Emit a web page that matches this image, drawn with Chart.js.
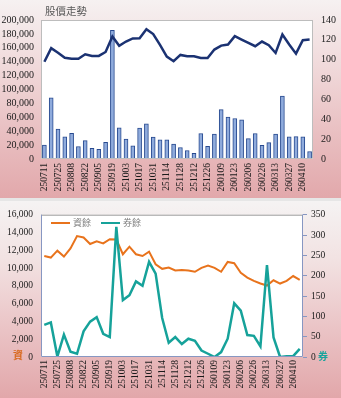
<!DOCTYPE html>
<html>
<head>
<meta charset="utf-8">
<script src="https://cdn.jsdelivr.net/npm/chart.js@4.4.1/dist/chart.umd.min.js"></script>
<style>
  html, body { margin: 0; padding: 0; background: #e6e6e6; }
  .panel { position: absolute; left: 0; width: 341px; overflow: hidden; }
  #topPanel { top: 0; height: 198px; background: linear-gradient(180deg, #f6f1f1 0%, #f1dcdd 30%, #eac3c5 62%, #e2a8ab 100%); }
  #bottomPanel { top: 201px; height: 197px; background: linear-gradient(180deg, #f5f3f3 0%, #f2e2e2 30%, #ebc6c8 62%, #e2a7aa 100%); }
  .title { position: absolute; left: 45px; top: 6px; font: 10.5px "Noto Sans CJK TC", sans-serif; color: #595959; line-height: 1; }
  .tag { position: absolute; font: bold 10px "Noto Sans CJK TC", sans-serif; line-height: 1; }
  #tagMargin { left: 13px; top: 149px; color: #d8691f; }
  #tagShort { left: 318px; top: 150px; color: #17a39b; }
  .legend { position: absolute; top: 15px; left: 51px; font: 9px "Noto Sans CJK TC", sans-serif; color: #7f7f7f; line-height: 12px; white-space: nowrap; }
  .legend span { display: inline-block; vertical-align: middle; }
  .legend .key { width: 19px; height: 2px; margin-right: 3px; }
  .legend .item { margin-right: 10px; }
</style>
</head>
<body>
<div class="panel" id="topPanel">
  <canvas id="priceChart"></canvas>
  <div class="title">股價走勢</div>
</div>
<div class="panel" id="bottomPanel">
  <canvas id="marginChart"></canvas>
  <div class="legend" id="marginLegend"></div>
  <span class="tag" id="tagMargin">資</span>
  <span class="tag" id="tagShort">券</span>
</div>
<script>
'use strict';

const dates = ['250711', '250718', '250725', '250801', '250808', '250815', '250822', '250829', '250905', '250912',
  '250919', '250926', '251003', '251009', '251017', '251024', '251031', '251107', '251114', '251121',
  '251128', '251205', '251212', '251219', '251226', '260102', '260109', '260116', '260123', '260130',
  '260206', '260211', '260226', '260306', '260313', '260320', '260327', '260402', '260410', '260417'];

const volume = [20000, 88000, 43000, 32000, 37000, 18000, 26500, 15500, 14000, 24000,
  185000, 45000, 28500, 19000, 44500, 50500, 31500, 27500, 27500, 21500,
  16500, 12200, 8300, 36700, 18100, 35700, 71000, 60200, 58300, 56300,
  29400, 36700, 19600, 23500, 35700, 90600, 31800, 32300, 32000, 10800];

const price = [98, 111.6, 107, 102, 101, 101, 105.5, 103.8, 103.8, 107.8,
  123.4, 114, 118.3, 121.4, 121.7, 130.8, 125.8, 115, 103.2, 98.5,
  104.8, 103.4, 103.4, 101.7, 101.7, 110.2, 114.2, 115.3, 123.7, 120.3,
  117, 113.6, 118.3, 114.6, 106.8, 125.4, 115.3, 106.1, 119.7, 120.3];

const marginBal = [11360, 11180, 11955, 11290, 12215, 13590, 13440, 12700, 13000, 12770,
  13250, 13220, 11550, 12400, 11550, 11360, 11845, 10430, 9915, 10060,
  9730, 9770, 9730, 9585, 10030, 10285, 10030, 9585, 10690, 10540,
  9475, 8925, 8555, 8260, 8035, 8625, 8260, 8555, 9105, 8665];

const shortBal = [79, 85, 1, 55, 13, 8, 63, 87, 98, 57,
  49, 320, 140, 152, 186, 175, 234, 205, 96, 35,
  49, 32, 45, 40, 16, 8, 0, 12, 45, 132,
  114, 54, 52, 26, 226, 48, 0, 2, 2, 20];

Chart.defaults.font.family = '"Liberation Serif", serif';
Chart.defaults.color = '#1a1a1a';

const everyOther = function (val, i) {
  return i % 2 === 0 ? this.getLabelForValue(val) : '';
};

// white plot area + frame
const plotFrame = {
  id: 'plotFrame',
  beforeDraw(chart, args, opts) {
    const { ctx, chartArea: a } = chart;
    ctx.save();
    ctx.fillStyle = '#ffffff';
    ctx.fillRect(a.left, a.top, a.width, a.height);
    ctx.restore();
  },
  afterDraw(chart, args, opts) {
    const { ctx, chartArea: a } = chart;
    ctx.save();
    ctx.lineWidth = 1;
    ctx.strokeStyle = opts.top;
    ctx.beginPath();
    ctx.moveTo(a.left, a.top + 0.5);
    ctx.lineTo(a.right, a.top + 0.5);
    ctx.stroke();
    ctx.strokeStyle = opts.sides;
    ctx.beginPath();
    ctx.moveTo(a.left + 0.5, a.top);
    ctx.lineTo(a.left + 0.5, a.bottom - 0.5);
    ctx.lineTo(a.right - 0.5, a.bottom - 0.5);
    ctx.lineTo(a.right - 0.5, a.top);
    ctx.stroke();
    ctx.restore();
  }
};

// top chart: volume bars + price line
new Chart(document.getElementById('priceChart').getContext('2d'), {
  data: {
    labels: dates,
    datasets: [
      {
        type: 'line',
        data: price,
        yAxisID: 'yPrice',
        borderColor: '#1b3272',
        borderWidth: 2.5,
        pointRadius: 0,
        tension: 0,
        order: 0,
      },
      {
        type: 'bar',
        data: volume,
        yAxisID: 'yVol',
        backgroundColor: '#8fabdc',
        borderColor: '#27498f',
        borderWidth: 1,
        barThickness: 4,
        order: 1,
      },
    ],
  },
  options: {
    responsive: true,
    maintainAspectRatio: false,
    animation: false,
    layout: { padding: { top: 20, left: 0, right: 0, bottom: 0 } },
    plugins: {
      legend: { display: false },
      tooltip: { enabled: false },
      plotFrame: { top: '#bdbdbd', sides: '#bdbdbd' },
    },
    scales: {
      x: {
        offset: true,
        grid: { display: false, drawTicks: false },
        border: { display: false },
        ticks: { autoSkip: false, maxRotation: 90, minRotation: 90, padding: 4, font: { size: 9.5 }, callback: everyOther },
        afterFit: (s) => { s.height = 39; },
      },
      yVol: {
        position: 'left',
        min: 0,
        max: 200000,
        grid: { display: false, drawTicks: false },
        border: { display: false },
        ticks: { stepSize: 20000, autoSkip: false, padding: 7, font: { size: 10 } },
        afterFit: (s) => { s.width = 41; },
      },
      yPrice: {
        position: 'right',
        min: 0,
        max: 140,
        grid: { display: false, drawTicks: false },
        border: { display: false },
        ticks: { stepSize: 20, autoSkip: false, padding: 8, font: { size: 10 } },
        afterFit: (s) => { s.width = 28; },
      },
    },
  },
  plugins: [plotFrame],
});

// bottom chart: margin balance vs short balance
const marginChart = new Chart(document.getElementById('marginChart').getContext('2d'), {
  type: 'line',
  data: {
    labels: dates,
    datasets: [
      {
        label: '資餘',
        data: marginBal,
        yAxisID: 'yMargin',
        borderColor: '#e8731c',
        borderWidth: 2,
        pointRadius: 0,
        tension: 0,
        order: 1,
      },
      {
        label: '券餘',
        data: shortBal,
        yAxisID: 'yShort',
        borderColor: '#16a29a',
        borderWidth: 2.5,
        pointRadius: 0,
        tension: 0,
        order: 0,
      },
    ],
  },
  options: {
    responsive: true,
    maintainAspectRatio: false,
    animation: false,
    layout: { padding: { top: 12, left: 0, right: 0, bottom: 0 } },
    plugins: {
      tooltip: { enabled: false },
      legend: { display: false },
      plotFrame: { top: '#9a9a9a', sides: '#8797c2' },
    },
    scales: {
      x: {
        offset: true,
        grid: { display: false, drawTicks: false },
        border: { display: false },
        ticks: { autoSkip: false, maxRotation: 90, minRotation: 90, padding: 3, font: { size: 9.5 }, callback: everyOther },
        afterFit: (s) => { s.height = 41; },
      },
      yMargin: {
        position: 'left',
        min: 0,
        max: 16000,
        grid: { display: false, drawTicks: false },
        border: { display: false },
        ticks: { stepSize: 2000, autoSkip: false, padding: 8, font: { size: 9.5 } },
        afterFit: (s) => { s.width = 41; },
      },
      yShort: {
        position: 'right',
        min: 0,
        max: 350,
        grid: { display: true, drawOnChartArea: false, drawTicks: true, tickLength: 4, color: '#8797c2' },
        border: { display: false },
        ticks: { stepSize: 50, autoSkip: false, padding: 4, font: { size: 9.5 } },
        afterFit: (s) => { s.width = 38; },
      },
    },
  },
  plugins: [plotFrame],
});

// legend built from the chart's datasets
document.getElementById('marginLegend').innerHTML = marginChart.data.datasets
  .map((ds) => '<span class="item"><span class="key" style="background:' + ds.borderColor + '"></span><span>' + ds.label + '</span></span>')
  .join('');
</script>
</body>
</html>
